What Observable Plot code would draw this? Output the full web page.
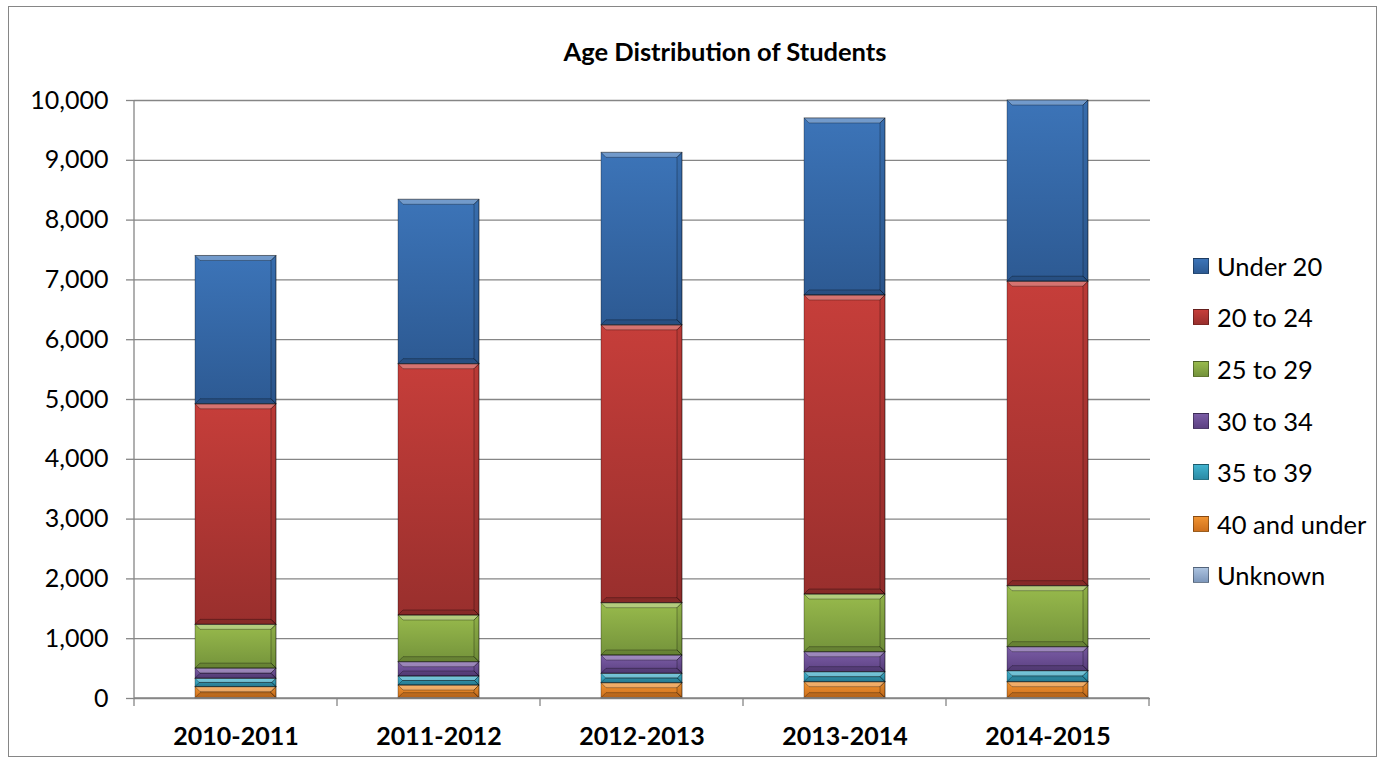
<!DOCTYPE html>
<html>
<head>
<meta charset="utf-8">
<script src="https://cdn.jsdelivr.net/npm/d3@7"></script>
<script src="https://cdn.jsdelivr.net/npm/@observablehq/plot@0.6"></script>
<style>
  html, body { margin: 0; padding: 0; background: #fff; }
  #wrap { position: relative; width: 1384px; height: 764px; overflow: hidden; font-family: Lato, "Open Sans", sans-serif; color: #000; }
  #frame { position: absolute; left: 8px; top: 6px; width: 1369px; height: 751px; border: 1px solid #868686; box-sizing: border-box; pointer-events: none; }
  #title { position: absolute; left: 425px; width: 600px; top: 36px; line-height: 30px; text-align: center; font-size: 25.5px; font-weight: bold; }
  #chart { position: absolute; left: 0; top: 80px; }
  #legend { position: absolute; left: 1193px; top: 240px; }
  .item { display: flex; align-items: center; height: 51.6px; font-size: 25.5px; }
  .sw { width: 16px; height: 16px; border: 1px solid rgba(0,0,0,0.35); box-sizing: border-box; margin-right: 8px; }
</style>
</head>
<body>
<div id="wrap">
  <div id="title">Age Distribution of Students</div>
  <div id="chart"></div>
  <div id="legend"></div>
  <div id="frame"></div>
</div>
<script>
// ---- data ----
const categories = ["2010-2011", "2011-2012", "2012-2013", "2013-2014", "2014-2015"];
const seriesNames = ["Under 20", "20 to 24", "25 to 29", "30 to 34", "35 to 39", "40 and under", "Unknown"];
const under20   = [2480, 2750, 2885, 2960, 3030];
const age20to24 = [3688, 4202, 4646, 5001, 5092];
const age25to29 = [732, 781, 875, 965, 1020];
const age30to34 = [170, 239, 306, 334, 401];
const age35to39 = [140, 151, 157, 167, 184];
const age40     = [185, 212, 251, 268, 268];
const unknown   = [5, 5, 5, 5, 5];
const yTicks = [0, 1000, 2000, 3000, 4000, 5000, 6000, 7000, 8000, 9000, 10000];

// colours (top, bottom of gradient) per series
const gradTop    = ["#3C74B8", "#C63E3A", "#98BA4C", "#7B5DA6", "#41B3CF", "#F09331", "#ABC2DF"];
const gradBottom = ["#2D5A93", "#992F2D", "#74933B", "#5C4182", "#2B8BA5", "#CE701C", "#7D97BB"];

const valuesBySeries = [under20, age20to24, age25to29, age30to34, age35to39, age40, unknown];

// table, stacked bottom (Unknown) to top (Under 20)
const table = [];
for (let s = seriesNames.length - 1; s >= 0; s--) {
  categories.forEach((c, i) => table.push({category: c, series: seriesNames[s], value: valuesBySeries[s][i]}));
}

const gradIds = seriesNames.map((_, i) => `grad${i}`);

const plot = Plot.plot({
  width: 1160,
  height: 684,
  marginTop: 20,
  marginBottom: 66,
  marginLeft: 134,
  marginRight: 10,
  style: {fontFamily: "Lato, 'Open Sans', sans-serif", fontSize: "25px", color: "#000", background: "transparent"},
  x: {domain: categories, paddingInner: 0.6, paddingOuter: 0.3, label: null},
  y: {domain: [0, 10000], label: null},
  color: {domain: seriesNames, range: gradIds.map(id => `url(#${id})`)},
  marks: [
    Plot.gridY(yTicks, {stroke: "#868686", strokeOpacity: 1, strokeWidth: 1.3}),
    Plot.axisY(yTicks, {tickFormat: d3.format(","), tickSize: 8, tickPadding: 18, stroke: "#868686", strokeOpacity: 1, strokeWidth: 1.3, label: null, fill: "#000"}),
    Plot.axisX({tickSize: 0, tickPadding: 29, fontWeight: "bold", label: null, fill: "#000"}),
    Plot.barY(table, {x: "category", y: "value", fill: "series", stroke: "rgba(0,0,0,0.3)", strokeWidth: 1})
  ]
});

document.getElementById("chart").appendChild(plot);

// gradients
const svg = d3.select(plot);
const defs = svg.insert("defs", ":first-child");
seriesNames.forEach((_, i) => {
  const g = defs.append("linearGradient").attr("id", gradIds[i]).attr("x1", 0).attr("y1", 0).attr("x2", 0).attr("y2", 1);
  g.append("stop").attr("offset", "0%").attr("stop-color", gradTop[i]);
  g.append("stop").attr("offset", "100%").attr("stop-color", gradBottom[i]);
});

// soft bevel highlights on each bar segment
const rects = svg.selectAll('g[aria-label="bar"] rect').nodes();
rects.forEach(node => {
  const x = +node.getAttribute("x"), y = +node.getAttribute("y");
  const w = +node.getAttribute("width"), h = +node.getAttribute("height");
  if (!(h > 2)) return;
  const b = Math.min(5, h / 2);
  const parent = d3.select(node.parentNode);
  parent.append("polygon")
    .attr("points", `${x},${y} ${x + w},${y} ${x + w - b},${y + b} ${x + b},${y + b}`)
    .attr("fill", "#fff").attr("fill-opacity", 0.28);
  parent.append("polygon")
    .attr("points", `${x},${y + h} ${x + w},${y + h} ${x + w - b},${y + h - b} ${x + b},${y + h - b}`)
    .attr("fill", "#000").attr("fill-opacity", 0.12);
  parent.append("polygon")
    .attr("points", `${x + w},${y} ${x + w},${y + h} ${x + w - b},${y + h - b} ${x + w - b},${y + b}`)
    .attr("fill", "#000").attr("fill-opacity", 0.06);
});

// y axis line and category boundary ticks on the x axis, from the plot's scales
const xs = plot.scale("x"), ys = plot.scale("y");
const y0 = ys.apply(0), yTop = ys.apply(10000);
const step = xs.step, bw = xs.bandwidth;
const bounds = categories.map(c => xs.apply(c) - (step - bw) / 2);
bounds.push(bounds[bounds.length - 1] + step);
const deco = svg.append("g").attr("stroke", "#868686").attr("stroke-width", 1.3);
deco.append("line").attr("x1", bounds[0]).attr("x2", bounds[0]).attr("y1", yTop).attr("y2", y0);
deco.append("line").attr("x1", bounds[0]).attr("x2", bounds[bounds.length - 1]).attr("y1", y0).attr("y2", y0);
bounds.forEach(bx => deco.append("line").attr("x1", bx).attr("x2", bx).attr("y1", y0).attr("y2", y0 + 8));

// legend
const legend = d3.select("#legend");
seriesNames.forEach((name, i) => {
  const item = legend.append("div").attr("class", "item");
  item.append("div").attr("class", "sw")
    .style("background", `linear-gradient(${gradTop[i]}, ${gradBottom[i]})`);
  item.append("span").text(name);
});
</script>
</body>
</html>
